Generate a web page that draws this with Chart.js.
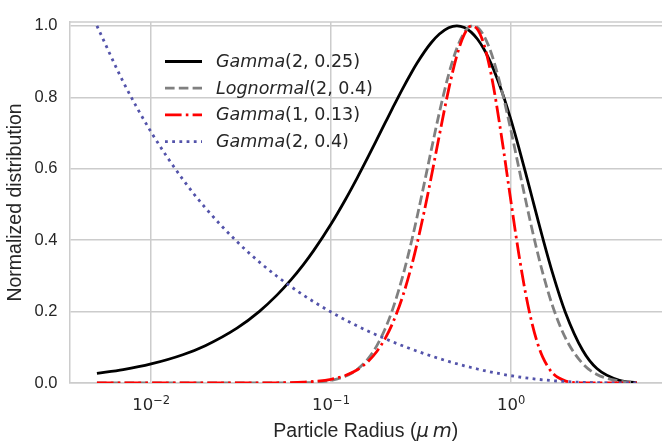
<!DOCTYPE html>
<html>
<head>
<meta charset="utf-8">
<script src="https://cdn.jsdelivr.net/npm/chart.js@4.4.1/dist/chart.umd.min.js"></script>
<style>
  html, body { margin: 0; padding: 0; background: #fff; overflow: hidden; }
  #wrap { width: 662px; height: 446px; position: relative; }
</style>
</head>
<body>
<div id="wrap"><canvas id="myChart"></canvas></div>
<script>
// particle radius (um), sample points
const radius = [
    0.005, 0.007, 0.01, 0.015, 0.02, 0.03, 0.04, 0.05, 0.06, 0.07,
    0.08, 0.1, 0.12, 0.14, 0.16, 0.18, 0.2, 0.22, 0.25, 0.28,
    0.3, 0.33, 0.36, 0.4, 0.45, 0.5, 0.55, 0.6, 0.65, 0.7,
    0.75, 0.8, 0.9, 1.0, 1.1, 1.2, 1.3, 1.4, 1.5, 1.7,
    2.0, 2.5, 3, 4, 5
];
const gammaA = [
    0.027, 0.0375, 0.0533, 0.0791, 0.1045, 0.1536, 0.2007, 0.246, 0.2893, 0.3308,
    0.3706, 0.4451, 0.5132, 0.5752, 0.6316, 0.6827, 0.7288, 0.7703, 0.8244, 0.8695,
    0.8951, 0.9272, 0.9526, 0.9771, 0.9947, 1.0, 0.9953, 0.9825, 0.9631, 0.9384,
    0.9098, 0.8781, 0.8088, 0.7358, 0.6626, 0.5918, 0.5249, 0.4628, 0.406, 0.3084,
    0.1991, 0.0916, 0.0404, 0.0073, 0.0012
];
const lognormal = [
    0, 0, 0, 0, 0, 0, 0, 0.0001, 0.0003, 0.0009,
    0.002, 0.0074, 0.0187, 0.0383, 0.0671, 0.1054, 0.1525, 0.2069, 0.2986, 0.3969,
    0.4633, 0.5604, 0.6512, 0.7579, 0.8636, 0.9373, 0.9811, 0.999, 0.9957, 0.9761,
    0.9441, 0.9035, 0.8077, 0.7056, 0.6068, 0.5165, 0.4366, 0.3674, 0.3083, 0.2163,
    0.1274, 0.0542, 0.0241, 0.0055, 0.0015
];
const gammaB = [
    0, 0, 0, 0, 0, 0.0001, 0.0002, 0.0006, 0.0013, 0.0025,
    0.0043, 0.0104, 0.0211, 0.0372, 0.0597, 0.089, 0.1251, 0.1678, 0.2426, 0.3278,
    0.3885, 0.4823, 0.576, 0.6943, 0.8215, 0.917, 0.9761, 0.9995, 0.9904, 0.9545,
    0.8981, 0.8279, 0.6663, 0.5063, 0.3669, 0.2557, 0.1726, 0.1132, 0.0725, 0.028,
    0.006, 0.0004, 0, 0, 0
];
const gammaC = [
    1.0, 0.8431, 0.7027, 0.5702, 0.4907, 0.3957, 0.3384, 0.2989, 0.2695, 0.2464,
    0.2276, 0.1986, 0.1768, 0.1596, 0.1456, 0.1339, 0.1239, 0.1152, 0.1041, 0.0948,
    0.0893, 0.082, 0.0756, 0.0682, 0.0604, 0.0539, 0.0482, 0.0434, 0.0392, 0.0355,
    0.0322, 0.0293, 0.0244, 0.0204, 0.0172, 0.0145, 0.0123, 0.0105, 0.0089, 0.0065,
    0.0041, 0.002, 0.001, 0.0002, 0.0001
];

const seriesLabels = ["Gamma(2, 0.25)", "Lognormal(2, 0.4)", "Gamma(1, 0.13)", "Gamma(2, 0.4)"];
const xTicks = [0.01, 0.1, 1];
const xTickExponents = ["\u22122", "\u22121", "0"];

const textColor = "#262626";
const gridColor = "#cccccc";

function toPoints(ys) {
    return radius.map((r, i) => ({ x: r, y: ys[i] }));
}

// legend inside the axes, x tick labels as 10^n, x title with the italic unit
const extras = {
    id: "extras",
    beforeDatasetsDraw(chart) {
        const ctx = chart.ctx;
        const a = chart.chartArea;
        ctx.save();
        ctx.strokeStyle = gridColor;
        ctx.lineWidth = 1.5;
        ctx.beginPath();
        ctx.moveTo(a.left, a.top);
        ctx.lineTo(a.right, a.top);
        ctx.stroke();
        ctx.restore();
    },
    afterDraw(chart) {
        const ctx = chart.ctx;
        ctx.save();
        chart.data.datasets.forEach((ds, i) => {
            const y = 61.5 + i * 26.7;
            ctx.beginPath();
            ctx.strokeStyle = ds.borderColor;
            ctx.lineWidth = ds.borderWidth;
            ctx.lineCap = "butt";
            ctx.setLineDash(ds.borderDash || []);
            ctx.moveTo(165, y);
            ctx.lineTo(202, y);
            ctx.stroke();
            ctx.setLineDash([]);

            const k = ds.label.indexOf("(");
            const name = ds.label.slice(0, k);
            const rest = ds.label.slice(k);
            ctx.fillStyle = textColor;
            ctx.textBaseline = "alphabetic";
            ctx.textAlign = "left";
            ctx.font = "italic 17.5px 'DejaVu Sans'";
            ctx.fillText(name, 216, y + 5.5);
            const w = ctx.measureText(name).width;
            ctx.font = "17.5px 'DejaVu Sans'";
            ctx.fillText(rest, 216 + w, y + 5.5);
        });

        // x tick labels
        const xs = chart.scales.x;
        ctx.fillStyle = textColor;
        ctx.textBaseline = "alphabetic";
        ctx.textAlign = "left";
        xTicks.forEach((v, i) => {
            const px = xs.getPixelForValue(v);
            ctx.font = "16.5px 'DejaVu Sans'";
            const wb = ctx.measureText("10").width;
            ctx.font = "11.5px 'DejaVu Sans'";
            const we = ctx.measureText(xTickExponents[i]).width;
            const x0 = px - (wb + we) / 2;
            ctx.font = "16.5px 'DejaVu Sans'";
            ctx.fillText("10", x0, 410);
            ctx.font = "11.5px 'DejaVu Sans'";
            ctx.fillText(xTickExponents[i], x0 + wb, 403.5);
        });

        // x axis title
        const a = chart.chartArea;
        const parts = [
            ["Particle Radius (", "19.5px 'Liberation Sans'"],
            ["\u03BC\u2009m", "italic 19.5px 'DejaVu Sans'"],
            [")", "19.5px 'Liberation Sans'"]
        ];
        let total = 0;
        parts.forEach(p => { ctx.font = p[1]; total += ctx.measureText(p[0]).width; });
        let x = (a.left + a.right) / 2 - total / 2;
        parts.forEach(p => {
            ctx.font = p[1];
            ctx.fillText(p[0], x, 437);
            x += ctx.measureText(p[0]).width;
        });
        ctx.restore();
    }
};

const data = {
    datasets: [
        {
            label: seriesLabels[0],
            data: toPoints(gammaA),
            borderColor: "#000000",
            borderWidth: 2.8,
            order: 4,
        },
        {
            label: seriesLabels[1],
            data: toPoints(lognormal),
            borderColor: "#808080",
            borderWidth: 2.8,
            borderDash: [9.6, 4.2],
            order: 3,
        },
        {
            label: seriesLabels[2],
            data: toPoints(gammaB),
            borderColor: "#ff0000",
            borderWidth: 2.8,
            borderDash: [16.6, 4.2, 2.6, 4.2],
            order: 2,
        },
        {
            label: seriesLabels[3],
            data: toPoints(gammaC),
            borderColor: "#5353aa",
            borderWidth: 2.8,
            borderDash: [2.8, 4.4],
            order: 1,
        },
    ],
};

const config = {
    type: "line",
    data: data,
    options: {
        responsive: true,
        maintainAspectRatio: false,
        animation: false,
        devicePixelRatio: 1,
        layout: { padding: { top: 10, right: 0, bottom: 0, left: 0 } },
        elements: {
            point: { radius: 0 },
            line: { cubicInterpolationMode: "monotone", borderJoinStyle: "round", fill: false },
        },
        scales: {
            x: {
                type: "logarithmic",
                min: 0.00352,
                max: 6.9,
                afterBuildTicks: (scale) => {
                    scale.ticks = xTicks.map(v => ({ value: v }));
                },
                afterFit: (scale) => { scale.height = 63; },
                ticks: {
                    autoSkip: false,
                    maxRotation: 0,
                    callback: () => "",
                },
                grid: { color: gridColor, lineWidth: 1.5, drawTicks: false },
                border: { color: gridColor, width: 1.5 },
            },
            y: {
                min: 0,
                max: 1.011,
                afterFit: (scale) => { scale.width = 69.5; },
                ticks: {
                    stepSize: 0.2,
                    includeBounds: false,
                    padding: 12,
                    color: textColor,
                    font: { family: "Liberation Sans", size: 16.5 },
                    callback: function (value) {
                        return value.toFixed(1);
                    },
                },
                grid: { color: gridColor, lineWidth: 1.5, drawTicks: false },
                border: { color: gridColor, width: 1.5 },
                title: {
                    display: true,
                    text: "Normalized distribution",
                    color: textColor,
                    font: { family: "Liberation Sans", size: 19.5 },
                    padding: { top: 4, bottom: 0 },
                },
            },
        },
        plugins: {
            legend: { display: false },
            tooltip: { enabled: false },
        },
    },
    plugins: [extras],
};

const myChart = new Chart(document.getElementById("myChart").getContext("2d"), config);
</script>
</body>
</html>
